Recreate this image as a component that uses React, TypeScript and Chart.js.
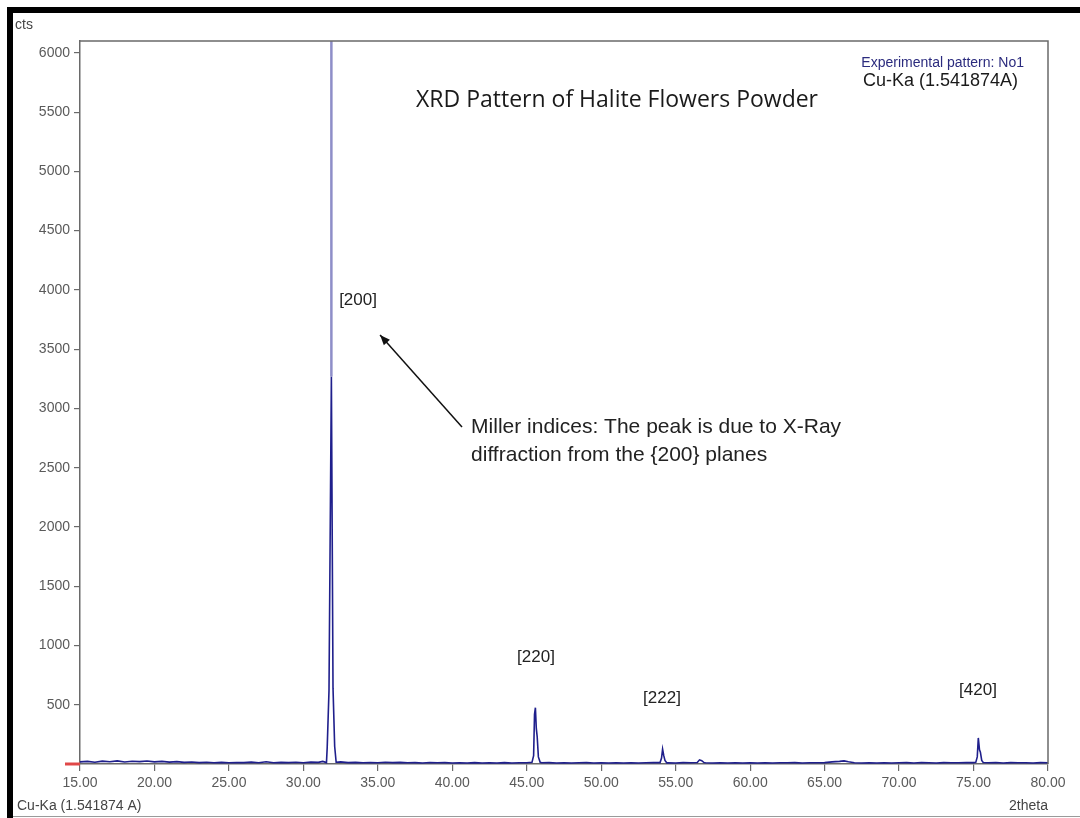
import React, { useEffect, useRef } from "react";
import { Chart, registerables } from "chart.js";

Chart.register(...registerables);

// ---------- data ----------
const scanAngles = [
  15.0, 15.5, 16.0, 16.5, 17.0, 17.5, 18.0, 18.5, 19.0, 19.5, 20.0, 20.5, 21.0, 21.5, 22.0, 22.5,
  23.0, 23.5, 24.0, 24.5, 25.0, 25.5, 26.0, 26.5, 27.0, 27.5, 28.0, 28.5, 29.0, 29.5, 30.0, 30.5,
  31.0, 31.3, 31.55, 31.6, 31.72, 31.88, 31.99, 32.1, 32.2, 32.5, 33.0, 33.5, 34.0, 34.5, 35.0,
  35.5, 36.0, 36.5, 37.0, 37.5, 38.0, 38.5, 39.0, 39.5, 40.0, 40.5, 41.0, 41.5, 42.0, 42.5, 43.0,
  43.5, 44.0, 44.5, 45.0, 45.35, 45.46, 45.52, 45.58, 45.64, 45.7, 45.78, 45.9, 46.0, 46.5, 47.0, 47.5,
  48.0, 48.5, 49.0, 49.5, 50.0, 50.5, 51.0, 51.5, 52.0, 52.5, 53.0, 53.5, 53.95, 54.05, 54.12,
  54.2, 54.28, 54.4, 54.5, 55.0, 55.5, 56.0, 56.45, 56.6, 56.75, 56.9, 57.0, 57.5, 58.0, 58.5,
  59.0, 59.5, 60.0, 60.5, 61.0, 61.5, 62.0, 62.5, 63.0, 63.5, 64.0, 64.5, 65.0, 65.5, 66.0, 66.3,
  66.6, 67.0, 67.5, 68.0, 68.5, 69.0, 69.5, 70.0, 70.5, 71.0, 71.5, 72.0, 72.5, 73.0, 73.5, 74.0,
  74.5, 75.0, 75.15, 75.25, 75.32, 75.4, 75.46, 75.55, 75.65, 76.0, 76.5, 77.0, 77.5, 78.0, 78.5,
  79.0, 79.5, 80.0,
];
const scanCounts = [
  18, 22, 15, 24, 19, 26, 17, 23, 20, 25, 18, 22, 16, 20, 14, 17,
  12, 15, 11, 14, 10, 13, 12, 16, 11, 19, 10, 14, 12, 15, 11, 16,
  14, 22, 12, 140, 620, 3270, 640, 150, 15, 18, 12, 14, 10, 13, 11,
  15, 12, 14, 10, 12, 9, 13, 10, 12, 8, 11, 9, 12, 8, 10, 9,
  12, 8, 11, 10, 14, 70, 420, 475, 300, 230, 60, 14, 10, 12, 9, 11,
  8, 10, 12, 9, 11, 8, 10, 9, 11, 8, 10, 12, 12, 50, 125,
  70, 30, 10, 11, 9, 12, 10, 12, 35, 28, 12, 10, 9, 11, 8,
  10, 9, 11, 8, 10, 9, 11, 10, 12, 9, 11, 10, 12, 18, 22, 26,
  19, 11, 9, 10, 8, 11, 9, 10, 12, 9, 13, 10, 8, 12, 10, 11,
  13, 12, 14, 60, 220, 120, 100, 30, 12, 10, 13, 9, 12, 10, 11,
  9, 12, 10,
];
// the clipped main (200) reflection that runs off the top of the scale
const mainPeakAngles = [31.88, 31.88];
const mainPeakCounts = [3270, 6800];

const xMin = 15;
const xMax = 80;
const xTicks = [15, 20, 25, 30, 35, 40, 45, 50, 55, 60, 65, 70, 75, 80];
const yMin = 0;
const yMax = 6100;
const yTicks = [0, 500, 1000, 1500, 2000, 2500, 3000, 3500, 4000, 4500, 5000, 5500, 6000];

const peakLabels = ["[200]", "[220]", "[222]", "[420]"];
const peakLabelAngles = [33.67, 45.62, 54.08, 75.3];
const peakLabelCounts = [3915, 903, 557, 624];

const titleText = "XRD Pattern of Halite Flowers Powder";
const noteLines = ["Miller indices: The peak is due to X-Ray", "diffraction from the {200} planes"];
const legendText = "Experimental pattern: No1";
const radiationText = "Cu-Ka (1.541874A)";
const yUnit = "cts";
const xUnit = "2theta";
const bottomRadiation = "Cu-Ka (1.541874 A)";

const SANS = "'Liberation Sans', Arial, sans-serif";
const NAVY = "#1f1f8c";
const LAVENDER = "#8e8ec8";
const FRAME = "#6a6a6a";
const TICK_TXT = "#5a5a5a";

const decorPlugin = {
  id: "decor",
  beforeDraw(chart: any) {
    const { ctx, width, height } = chart;
    ctx.save();
    ctx.fillStyle = "#ffffff";
    ctx.fillRect(0, 0, width, height);
    ctx.fillStyle = "#000000";
    ctx.fillRect(7, 7, width - 7, 6);
    ctx.fillRect(7, 7, 6, height - 7);
    ctx.fillStyle = "#9a9a9a";
    ctx.fillRect(13, height - 2, width - 13, 1);
    ctx.restore();
  },
  afterDatasetsDraw(chart: any) {
    const { ctx, chartArea: a, scales } = chart;
    const x = scales.x;
    const y = scales.y;
    ctx.save();
    // frame top & right
    ctx.strokeStyle = FRAME;
    ctx.lineWidth = 1.5;
    ctx.beginPath();
    ctx.moveTo(a.left, a.top);
    ctx.lineTo(a.right, a.top);
    ctx.lineTo(a.right, a.bottom);
    ctx.stroke();
    // red start marker
    const y0 = y.getPixelForValue(0);
    ctx.strokeStyle = "#e04848";
    ctx.lineWidth = 3;
    ctx.beginPath();
    ctx.moveTo(a.left - 15, y0);
    ctx.lineTo(a.left, y0);
    ctx.stroke();

    // title
    ctx.fillStyle = "#1a1a1a";
    ctx.textAlign = "center";
    ctx.textBaseline = "middle";
    ctx.font = "23px 'Open Sans', sans-serif";
    ctx.fillText(titleText, x.getPixelForValue(51.06), y.getPixelForValue(5602));

    // legend text (top right inside frame)
    ctx.textAlign = "right";
    ctx.font = `14px ${SANS}`;
    ctx.fillStyle = "#2b2b7e";
    ctx.fillText(legendText, a.right - 24, a.top + 22);
    ctx.font = `18px ${SANS}`;
    ctx.fillStyle = "#1a1a1a";
    ctx.fillText(radiationText, a.right - 30, a.top + 40);

    // peak labels
    ctx.textAlign = "center";
    ctx.font = `17px ${SANS}`;
    ctx.fillStyle = "#222";
    peakLabels.forEach((t, i) => {
      ctx.fillText(t, x.getPixelForValue(peakLabelAngles[i]), y.getPixelForValue(peakLabelCounts[i]));
    });

    // note text
    ctx.textAlign = "left";
    ctx.font = `21px ${SANS}`;
    ctx.fillText(noteLines[0], x.getPixelForValue(41.26), y.getPixelForValue(2843));
    ctx.fillText(noteLines[1], x.getPixelForValue(41.26), y.getPixelForValue(2607));

    // arrow
    const tx = x.getPixelForValue(40.65);
    const ty = y.getPixelForValue(2843);
    const hx = x.getPixelForValue(35.15);
    const hy = y.getPixelForValue(3620);
    ctx.strokeStyle = "#111";
    ctx.lineWidth = 1.5;
    ctx.beginPath();
    ctx.moveTo(tx, ty);
    ctx.lineTo(hx, hy);
    ctx.stroke();
    const ang = Math.atan2(hy - ty, hx - tx);
    const L = 11;
    const W = 0.38;
    ctx.fillStyle = "#111";
    ctx.beginPath();
    ctx.moveTo(hx, hy);
    ctx.lineTo(hx - L * Math.cos(ang - W), hy - L * Math.sin(ang - W));
    ctx.lineTo(hx - L * Math.cos(ang + W), hy - L * Math.sin(ang + W));
    ctx.closePath();
    ctx.fill();

    // outside labels
    ctx.fillStyle = "#444";
    ctx.font = `14px ${SANS}`;
    ctx.textAlign = "left";
    ctx.fillText(yUnit, 15, 25);
    ctx.fillText(bottomRadiation, 17, 806);
    ctx.textAlign = "right";
    ctx.fillText(xUnit, a.right, 806);
    ctx.restore();
  },
};

export default function App() {
  const ref = useRef<HTMLCanvasElement | null>(null);
  useEffect(() => {
    if (!ref.current) return;
    const scan = scanAngles.map((a, i) => ({ x: a, y: scanCounts[i] }));
    const stick = mainPeakAngles.map((a, i) => ({ x: a, y: mainPeakCounts[i] }));
    const chart = new Chart(ref.current, {
      type: "line",
      data: {
        datasets: [
          {
            label: "main",
            data: stick,
            borderColor: LAVENDER,
            borderWidth: 2.5,
            pointRadius: 0,
            tension: 0,
          },
          {
            label: "scan",
            data: scan,
            borderColor: NAVY,
            borderWidth: 1.6,
            pointRadius: 0,
            tension: 0,
          },
        ],
      },
      options: {
        animation: false,
        responsive: false,
        devicePixelRatio: 1,
        layout: { padding: { top: 41, right: 32, left: 0, bottom: 0 } },
        plugins: { legend: { display: false }, tooltip: { enabled: false }, title: { display: false } },
        scales: {
          x: {
            type: "linear",
            min: xMin,
            max: xMax,
            afterBuildTicks: (s: any) => {
              s.ticks = xTicks.map((v) => ({ value: v }));
            },
            afterFit: (s: any) => {
              s.height = 54;
            },
            ticks: {
              autoSkip: false,
              maxRotation: 0,
              padding: 4,
              color: TICK_TXT,
              font: { family: SANS, size: 14 },
              callback: (v: any) => Number(v).toFixed(2),
            },
            grid: { drawOnChartArea: false, drawTicks: true, tickLength: 7, color: FRAME, lineWidth: 1.2 },
            border: { display: true, color: FRAME, width: 1.5 },
          },
          y: {
            type: "linear",
            min: yMin,
            max: yMax,
            afterBuildTicks: (s: any) => {
              s.ticks = yTicks.map((v) => ({ value: v }));
            },
            afterFit: (s: any) => {
              s.width = 80;
            },
            ticks: {
              autoSkip: false,
              padding: 4,
              color: TICK_TXT,
              font: { family: SANS, size: 14 },
              callback: (v: any) => (Number(v) === 0 ? "" : String(v)),
            },
            grid: { drawOnChartArea: false, drawTicks: true, tickLength: 6, color: FRAME, lineWidth: 1.2 },
            border: { display: true, color: FRAME, width: 1.5 },
          },
        },
      },
      plugins: [decorPlugin],
    } as any);
    return () => chart.destroy();
  }, []);
  return (
    <div style={{ position: "absolute", left: 0, top: 0, width: 1080, height: 818, background: "#fff" }}>
      <canvas ref={ref} width={1080} height={818} style={{ display: "block", width: 1080, height: 818 }} />
    </div>
  );
}
